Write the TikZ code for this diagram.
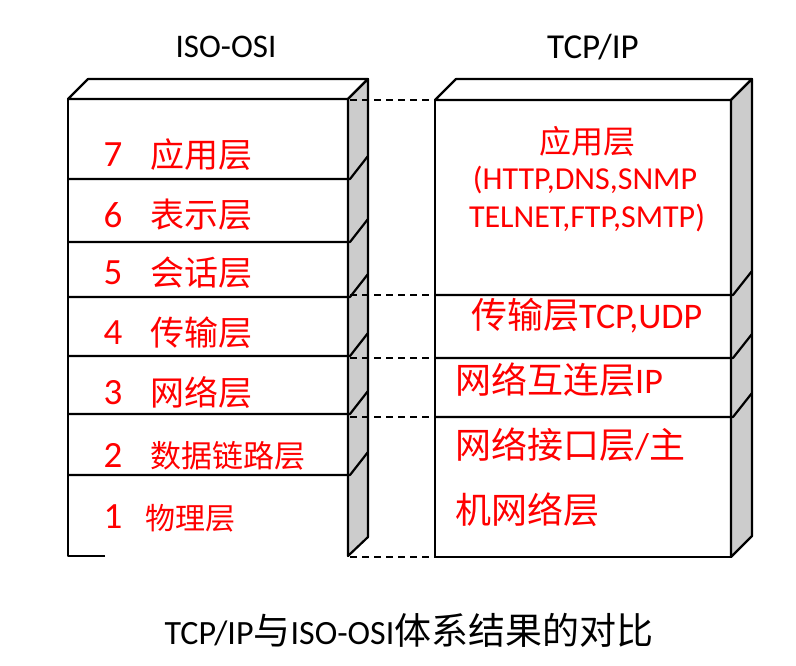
\documentclass[tikz,border=0pt]{standalone}
\usepackage{fontspec}
\setmainfont{Carlito}
\newfontfamily\cjk{Noto Sans CJK SC}
\tikzset{
  box/.style = {line width=2.2pt, line join=round},
  sideface/.style = {box, fill=black!20},
  link/.style = {line width=2pt, dash pattern=on 7pt off 5pt},
  redtext/.style = {text=red, inner sep=0pt},
  num/.style = {redtext, font=\fontsize{37}{40}\selectfont},
  osilbl/.style = {redtext, anchor=west, font=\cjk\fontsize{34}{40}\selectfont},
  tcplbl/.style = {redtext, anchor=west, font=\fontsize{36}{40}\selectfont},
  hdr/.style = {inner sep=0pt, font=\fontsize{33}{38}\selectfont}
}

\begin{document}
\begin{tikzpicture}[x=1pt,y=-1pt]
\useasboundingbox (0,0) rectangle (796,665);
% ISO-OSI stack
\draw[box] (68,99) -- (88,79) -- (368,79) -- (348,99) -- cycle;
\draw[sideface] (348,99) -- (368,79) -- (368,537) -- (348,556) -- cycle;
\draw[box] (105,556) -- (68,556) -- (68,99);
\foreach \y in {179,242,297,356,414,475}
  \draw[box] (68,\y) -- (350,\y) -- (368,\y-23);
% TCP/IP stack
\draw[box] (435,100) -- (456,79) -- (752,79) -- (731,100) -- cycle;
\draw[sideface] (731,100) -- (752,79) -- (752,536) -- (731,557) -- cycle;
\draw[box] (731,557) -- (435,557) -- (435,100);
\foreach \y in {295,358,417}
  \draw[box] (435,\y) -- (733,\y) -- (752,\y-24);
% dashed links between the stacks
\foreach \y [count=\i] in {100,295,358,417,557} {
  \coordinate (osiedge\i) at (350,\y);
  \coordinate (tcpedge\i) at (435,\y);
  \draw[link] (osiedge\i) -- (tcpedge\i);
}

\node[hdr] (osihdr) at (226,47) {ISO-OSI};
\node[hdr, font=\fontsize{35}{38}\selectfont] (tcphdr) at (593,47) {TCP/IP};

% OSI layers
\foreach \n/\y/\t in {7/155/应用层, 6/215/表示层, 5/273/会话层,
                      4/333/传输层, 3/393/网络层} {
  \node[num] (num\n) at (113,\y) {\n};
  \node[osilbl] (osi\n) at (150,\y) {\t};
}
\node[num] (num2) at (113,455) {2};
\node[osilbl, font=\cjk\fontsize{31}{36}\selectfont] (osi2) at (150,456) {数据链路层};
\node[num] (num1) at (113,517) {1};
\node[osilbl, font=\cjk\fontsize{30}{36}\selectfont] (osi1) at (145,518) {物理层};

% TCP/IP layers
\node[redtext, font=\cjk\fontsize{32}{36}\selectfont] (app) at (587,141) {应用层};
\node[redtext, font=\fontsize{32}{36}\selectfont] (proto1) at (585,180) {(HTTP,DNS,SNMP};
\node[redtext, font=\fontsize{32}{36}\selectfont] (proto2) at (587,218) {TELNET,FTP,SMTP)};
\node[tcplbl] (trans) at (471,316) {{\cjk 传输层}TCP,UDP};
\node[tcplbl] (inet) at (455,380) {{\cjk 网络互连层}IP};
\node[tcplbl] (host1) at (455,445) {{\cjk 网络接口层}/{\cjk 主}};
\node[tcplbl] (host2) at (455,510) {\cjk 机网络层};

\node[inner sep=0pt, font=\fontsize{34}{38}\selectfont] (caption) at (409,630)
  {TCP/IP{\cjk\fontsize{37}{38}\selectfont 与}ISO-OSI{\cjk\fontsize{37}{38}\selectfont 体系结果的对比}};
\end{tikzpicture}
\end{document}
